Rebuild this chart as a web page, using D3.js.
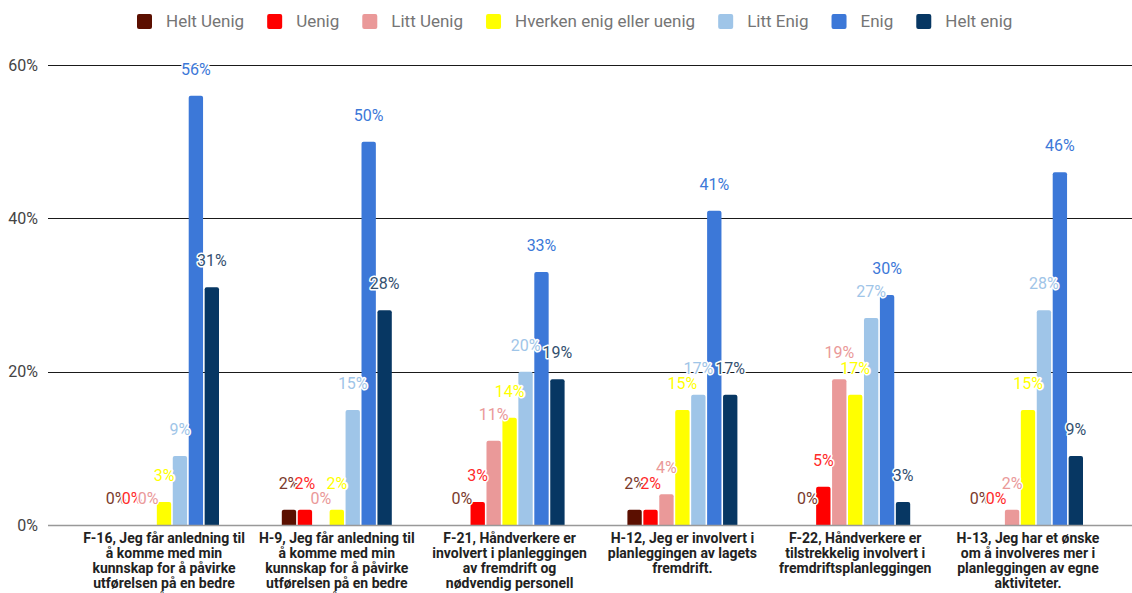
<!DOCTYPE html>
<html>
<head>
<meta charset="utf-8">
<script src="https://cdn.jsdelivr.net/npm/d3@7"></script>
<style>
  html, body { margin: 0; padding: 0; background: #fff; }
  svg { display: block; font-family: Roboto, "Noto Sans", Arial, sans-serif; }
</style>
</head>
<body>
<svg id="chart" width="1132" height="593"></svg>
<script>
// Survey answers per statement, share of respondents (%)
const categories = [
  ["F-16, Jeg får anledning til", "å komme med min", "kunnskap for å påvirke", "utførelsen på en bedre", "måte."],
  ["H-9, Jeg får anledning til", "å komme med min", "kunnskap for å påvirke", "utførelsen på en bedre", "måte."],
  ["F-21, Håndverkere er", "involvert i planleggingen", "av fremdrift og", "nødvendig personell"],
  ["H-12, Jeg er involvert i", "planleggingen av lagets", "fremdrift."],
  ["F-22, Håndverkere er", "tilstrekkelig involvert i", "fremdriftsplanleggingen"],
  ["H-13, Jeg har et ønske", "om å involveres mer i", "planleggingen av egne", "aktiviteter."]
];
const seriesNames = ["Helt Uenig", "Uenig", "Litt Uenig", "Hverken enig eller uenig", "Litt Enig", "Enig", "Helt enig"];
const heltUenig = [0, 2, 0, 2, 0, 0];
const uenig     = [0, 2, 3, 2, 5, 0];
const littUenig = [0, 0, 11, 4, 19, 2];
const hverken   = [3, 2, 14, 15, 17, 15];
const littEnig  = [9, 15, 20, 17, 27, 28];
const enig      = [56, 50, 33, 41, 30, 46];
const heltEnig  = [31, 28, 19, 17, 3, 9];
const seriesValues = [heltUenig, uenig, littUenig, hverken, littEnig, enig, heltEnig];
const yTicks = [0, 20, 40, 60];

const barColors   = ["#5b0f00", "#ff0000", "#ea9999", "#ffff00", "#9fc5e8", "#3c78d8", "#073763"];
const labelColors = ["#7a3a2c", "#ff2a2a", "#ea9999", "#ffff00", "#9fc5e8", "#3c78d8", "#33506f"];

const svg = d3.select("#chart");

const y = d3.scaleLinear().domain([0, 60]).range([525, 65]);
const x0 = d3.scaleBand().domain(d3.range(categories.length)).range([77.6, 1114.4]).padding(0);
const x1 = d3.scaleBand().domain(d3.range(seriesNames.length)).range([-55, 55]).paddingInner(0.1);

// grid lines
const grid = svg.append("g");
grid.selectAll("line.grid").data(yTicks.filter(t => t > 0)).join("line")
  .attr("x1", 48).attr("x2", 1132)
  .attr("y1", d => Math.round(y(d)) + 0.5).attr("y2", d => Math.round(y(d)) + 0.5)
  .attr("stroke", "#1a1a1a").attr("stroke-width", 1.2);

// y tick labels
svg.append("g").selectAll("text").data(yTicks).join("text")
  .attr("x", 38).attr("y", d => y(d)).attr("dy", "0.35em")
  .attr("text-anchor", "end").attr("font-size", 16).attr("fill", "#444")
  .text(d => d + "%");

// bars with slightly rounded tops
function barPath(x, top, w, bottom) {
  const r = Math.min(2, (bottom - top) / 2, w / 2);
  return `M${x},${bottom}V${top + r}Q${x},${top} ${x + r},${top}H${x + w - r}Q${x + w},${top} ${x + w},${top + r}V${bottom}Z`;
}

const groups = svg.append("g").selectAll("g").data(categories).join("g")
  .attr("transform", (d, i) => `translate(${x0(i) + x0.bandwidth() / 2},0)`);

groups.each(function(cat, ci) {
  const g = d3.select(this);
  seriesValues.forEach((vals, si) => {
    const v = vals[ci];
    if (v > 0) {
      g.append("path")
        .attr("d", barPath(x1(si), y(v), x1.bandwidth(), y(0)))
        .attr("fill", barColors[si]);
    }
  });
});

// baseline
svg.append("line").attr("x1", 48).attr("x2", 1132).attr("y1", 525.5).attr("y2", 525.5)
  .attr("stroke", "#999").attr("stroke-width", 1.5);

// value labels with white halo
groups.each(function(cat, ci) {
  const g = d3.select(this);
  seriesValues.forEach((vals, si) => {
    const v = vals[ci];
    g.append("text")
      .attr("x", x1(si) + x1.bandwidth() / 2)
      .attr("y", y(v) - 21)
      .attr("text-anchor", "middle").attr("font-size", 16)
      .attr("fill", labelColors[si])
      .attr("stroke", "#fff").attr("stroke-width", 3).attr("stroke-linejoin", "round")
      .attr("paint-order", "stroke")
      .text(v + "%");
  });
});

// category labels
groups.each(function(lines) {
  const t = d3.select(this).append("text")
    .attr("text-anchor", "middle").attr("font-size", 14).attr("font-weight", "bold")
    .attr("fill", "#222");
  lines.forEach((ln, li) => {
    t.append("tspan").attr("x", 0).attr("y", 543 + li * 15).text(ln);
  });
});

// legend
const legend = svg.append("g");
let lx = 137;
seriesNames.forEach((name, i) => {
  legend.append("rect").attr("x", lx).attr("y", 14).attr("width", 15).attr("height", 15)
    .attr("rx", 2).attr("fill", barColors[i]);
  const t = legend.append("text").attr("x", lx + 29).attr("y", 21.5).attr("dy", "0.35em")
    .attr("font-size", 17).attr("fill", "#757575").text(name);
  lx += 29 + t.node().getComputedTextLength() + 23;
});
</script>
</body>
</html>
